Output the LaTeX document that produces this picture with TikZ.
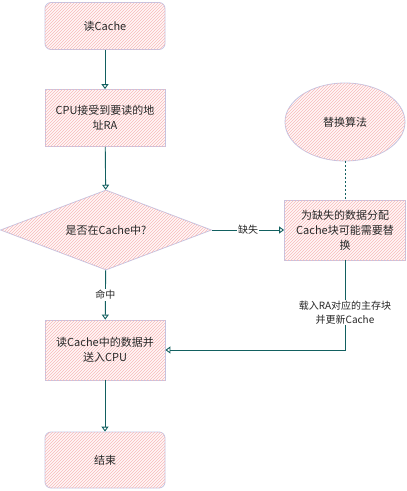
\documentclass[tikz,border=0pt]{standalone}
\usepackage{fontspec}
\setmainfont{Noto Sans CJK SC}
\usetikzlibrary{shapes.geometric,arrows.meta,patterns}
\definecolor{lav}{RGB}{196,196,226}
\definecolor{hatch}{RGB}{248,185,185}
\definecolor{bgp}{RGB}{255,248,248}
\definecolor{tealc}{RGB}{18,96,96}
\definecolor{txt}{RGB}{40,40,40}
\begin{document}
\begin{tikzpicture}[x=1pt,y=-1pt,
  shade/.style={draw=lav,line width=0.8pt,fill=bgp,postaction={pattern=north east lines,pattern color=hatch}},
  box/.style={shade,rectangle,minimum width=120pt,minimum height=57pt,align=center,text=txt,font=\fontsize{11}{15}\selectfont,inner sep=2pt},
  rbox/.style={box,rounded corners=6pt},
  arr/.style={draw=tealc,line width=0.9pt,-{Triangle[open,length=5pt,width=7pt]}},
  lbl/.style={fill=white,text=txt,font=\fontsize{10}{14}\selectfont,inner sep=1pt,align=center}]
\useasboundingbox (0,0) rectangle (407,491);
\node[rbox,minimum height=47pt] (n1) at (105,26) {读Cache};
\node[box] (n2) at (105,118) {CPU接受到要读的地\\址RA};
\node[shade,diamond,aspect=2.6,minimum width=211pt,minimum height=80pt,inner sep=0pt,text=txt,font=\fontsize{11}{15}\selectfont] (d) at (106,230) {是否在Cache中?};
\node[box,minimum height=60pt] (n3) at (105,350) {读Cache中的数据并\\送入CPU};
\node[rbox,minimum height=56pt] (n4) at (105,460) {结束};
\node[box,minimum width=121pt,minimum height=60pt] (r) at (345,230) {为缺失的数据分配\\Cache块可能需要替\\换};
\node[shade,ellipse,minimum width=120pt,minimum height=78pt,text=txt,font=\fontsize{11}{15}\selectfont] (e) at (345,122) {替换算法};
\draw[arr] (n1) -- (n2);
\draw[arr] (n2) -- (d);
\draw[arr] (d) -- node[lbl]{命中} (n3);
\draw[arr] (n3) -- (n4);
\draw[arr] (d.east) -- node[lbl]{缺失} (r.west);
\draw[tealc,line width=0.9pt,dash pattern=on 2pt off 2pt] (e) -- (r);
\draw[arr] (r.south) |- node[lbl,pos=0.29]{载入RA对应的主存块\\并更新Cache} (n3.east);
\end{tikzpicture}
\end{document}
